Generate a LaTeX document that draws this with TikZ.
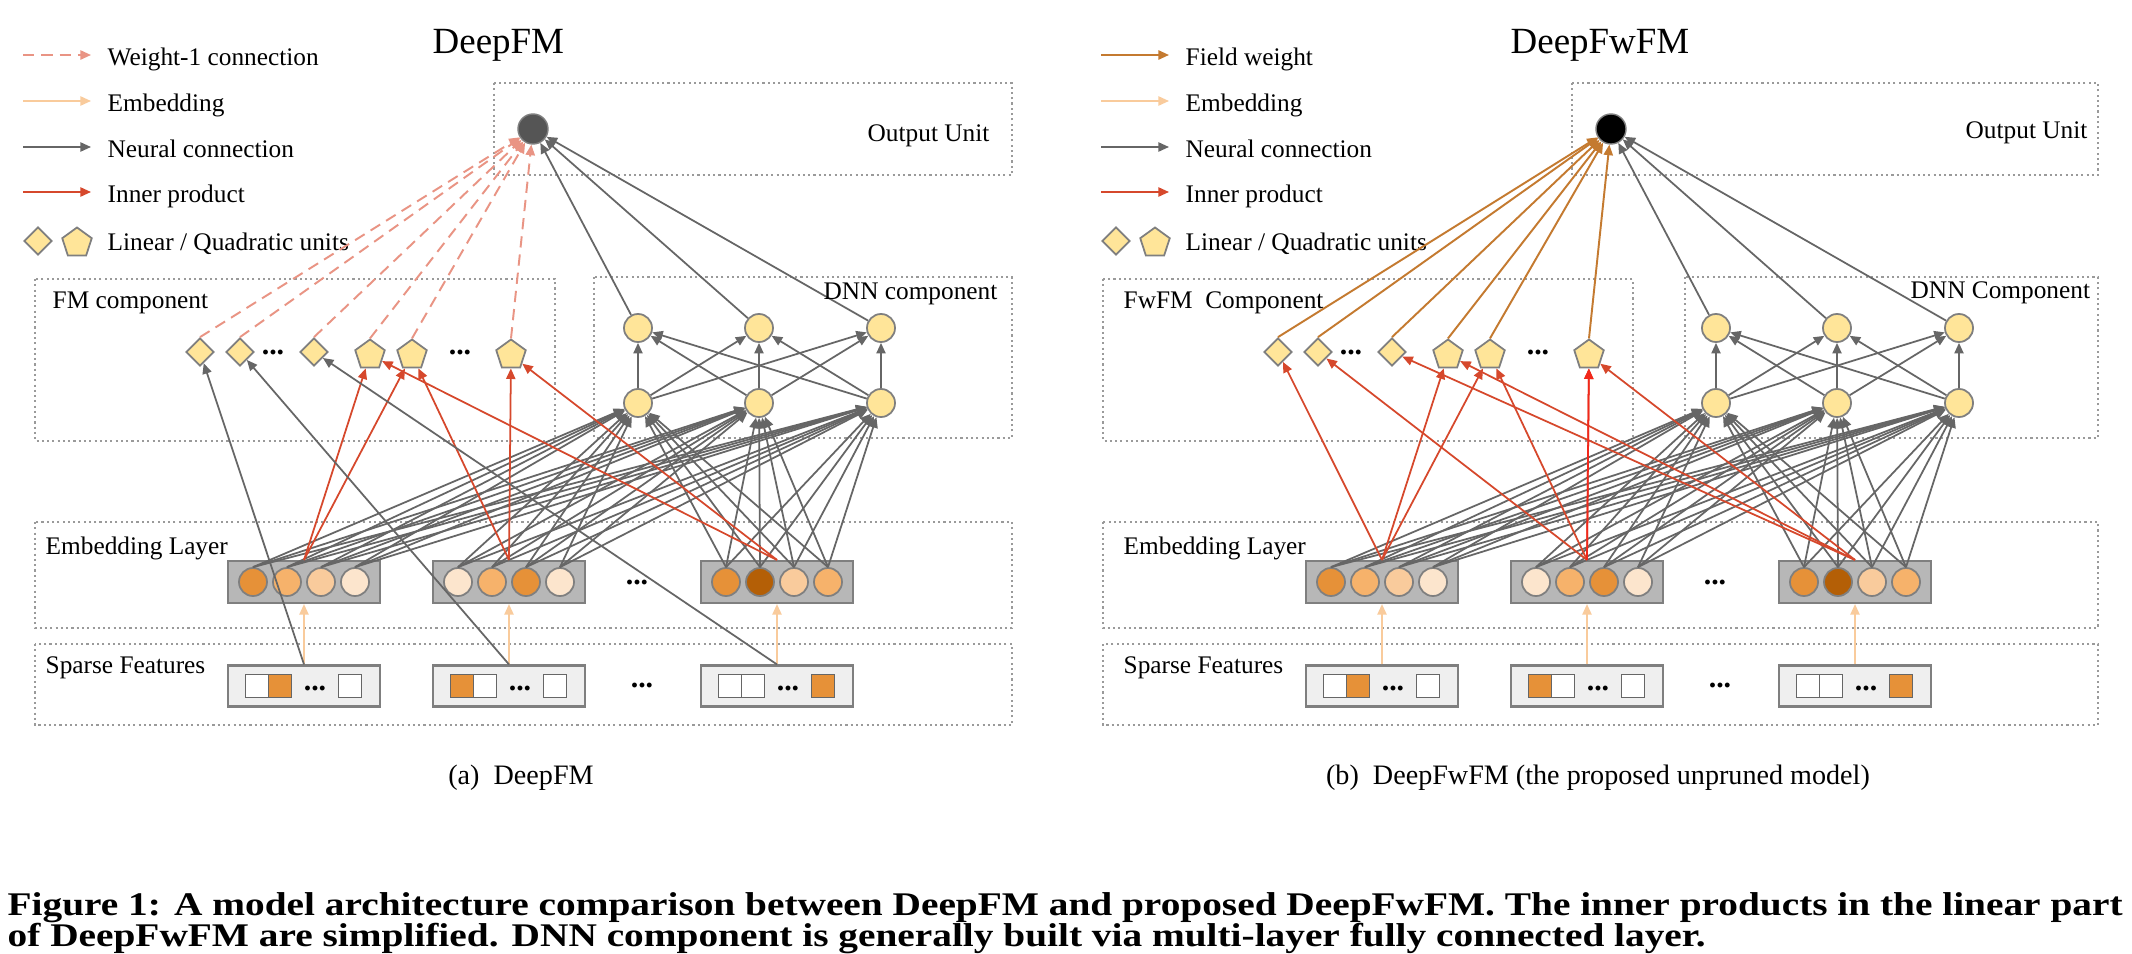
\documentclass[tikz,border=0pt]{standalone}
\usepackage{fontspec}
\setmainfont{Liberation Serif}
\newfontfamily\capfont[FakeStretch=1.19]{Liberation Serif}
\usepackage{tikz}
\usetikzlibrary{arrows.meta,shapes.geometric}

\definecolor{cUnit}{HTML}{FFE599}
\definecolor{cEdge}{HTML}{7F7F7F}
\definecolor{cNeural}{HTML}{666666}
\definecolor{cInner}{HTML}{D6482C}
\definecolor{cInnerHi}{HTML}{F2271A}
\definecolor{cWone}{HTML}{E99484}
\definecolor{cEmb}{HTML}{F9CB9C}
\definecolor{cField}{HTML}{C47A30}
\definecolor{cRegion}{HTML}{9A9A9A}
\definecolor{cBlock}{HTML}{B7B7B7}
\definecolor{cSparse}{HTML}{EFEFEF}
\definecolor{cOut}{HTML}{555555}
\definecolor{cE1}{HTML}{E69138}
\definecolor{cE2}{HTML}{F6B26B}
\definecolor{cE3}{HTML}{F9CB9C}
\definecolor{cE4}{HTML}{FCE5CD}
\definecolor{cE5}{HTML}{B45F06}

\begin{document}
\begin{tikzpicture}[x=0.01cm, y=-0.01cm,
    arrowed/.style = {-{Triangle[length=3pt,width=2.6pt]}},
    neural/.style = {draw=cNeural, line width=0.5pt, arrowed},
    innerp/.style = {draw=cInner, line width=0.5pt, arrowed},
    wone/.style = {draw=cWone, line width=0.55pt, dash pattern=on 3.2pt off 2pt, arrowed},
    emb/.style = {draw=cEmb, line width=0.5pt, arrowed},
    fieldw/.style = {draw=cField, line width=0.55pt, arrowed},
    region/.style = {draw=cRegion, line width=0.6pt, dash pattern=on 0.6pt off 0.9pt},
    unit/.style = {circle, draw=cEdge, fill=cUnit, line width=0.5pt, minimum size=0.28cm, inner sep=0pt},
    lin/.style = {diamond, draw=cEdge, fill=cUnit, line width=0.5pt, minimum size=0.28cm, inner sep=0pt},
    quad/.style = {regular polygon, regular polygon sides=5, draw=cEdge, fill=cUnit,
                   line width=0.5pt, minimum size=0.31cm, inner sep=0pt},
    outu/.style = {circle, draw=cEdge, minimum size=0.3cm, inner sep=0pt},
    eunit/.style = {circle, draw=cEdge, line width=0.5pt, minimum size=0.28cm, inner sep=0pt},
    eblock/.style = {draw=cEdge, fill=cBlock, line width=0.6pt, minimum width=1.52cm,
                     minimum height=0.42cm, inner sep=0pt},
    sblock/.style = {draw=cEdge, fill=cSparse, line width=0.6pt, minimum width=1.52cm,
                     minimum height=0.41cm, inner sep=0pt},
    bit/.style = {draw=cNeural, line width=0.5pt, minimum size=0.23cm, inner sep=0pt},
    lab/.style = {font=\fontsize{7.2}{8.6}\selectfont, anchor=base west, inner sep=0pt},
    ttl/.style = {font=\fontsize{10.5}{12}\selectfont, anchor=base west, inner sep=0pt},
    ellip/.style = {font=\fontsize{8.5}{10}\selectfont\bfseries, anchor=base, inner sep=0pt},
    subcap/.style = {font=\fontsize{8}{9.6}\selectfont, anchor=base, inner sep=0pt},
    figcap/.style = {font=\capfont\bfseries\fontsize{9.4}{11}\selectfont, anchor=base west, inner sep=0pt}]
\fill[white] (0,0) rectangle (2132,952);

% both panels
\foreach \p/\sx/\lx/\rx/\dl/\ofill in {a/0/35/1012/594/cOut, b/1078/25/1020/607/black}{
\begin{scope}[shift={(\sx,0)}]
    \draw[region] (494,83) rectangle (\rx,175);
    \draw[region] (\lx,279) rectangle (555,441);
    \draw[region] (\dl,277) rectangle (\rx,438);
    \draw[region] (\lx,522) rectangle (\rx,628);
    \draw[region] (\lx,644) rectangle (\rx,725);
    \node[lab] (\p-embl) at (45,554) {Embedding Layer};
    \node[lab] (\p-spl) at (45,673) {Sparse Features};
    % legend
    \foreach \i/\y/\st/\txt in {2/101/emb/Embedding, 3/147/neural/Neural connection, 4/192/innerp/Inner product}{
        \coordinate (\p-k\i) at (23,\y);
        \coordinate (\p-m\i) at (91,\y);
        \draw[\st] (\p-k\i) -- (\p-m\i);
        \node[lab] (\p-t\i) at (107,\y+10) {\txt};
    }
    \node[lin] (\p-kd) at (38,241) {};
    \node[quad] (\p-kq) at (77,243) {};
    \node[lab] (\p-t5) at (107,250) {Linear / Quadratic units};
    % output and DNN
    \node[outu, fill=\ofill] (\p-out) at (533,129) {};
    \foreach \i/\x in {1/638,2/759,3/881}{
        \node[unit] (\p-h\i) at (\x,403) {};
        \node[unit] (\p-g\i) at (\x,328) {};
    }
    % linear and quadratic units
    \foreach \i/\x in {1/200,2/240,3/314} \node[lin] (\p-d\i) at (\x,352) {};
    \foreach \i/\x in {1/370,2/412,3/511} \node[quad] (\p-q\i) at (\x,355) {};
    \node[ellip] (\p-dd) at (273,354) {...};
    \node[ellip] (\p-qd) at (460,354) {...};
    % fields
    \foreach \j/\x/\fa/\fb/\fc/\fd/\ga/\gb/\gc in {1/304/cE1/cE2/cE3/cE4/white/cE1/white,
            2/509/cE4/cE2/cE1/cE4/cE1/white/white, 3/777/cE1/cE5/cE3/cE2/white/white/cE1}{
        \node[eblock] (\p-e\j) at (\x,582) {};
        \node[sblock] (\p-s\j) at (\x,686) {};
        \foreach \k/\col/\dx in {1/\fa/-51, 2/\fb/-17, 3/\fc/17, 4/\fd/51}
            \node[eunit, fill=\col] (\p-e\j-\k) at (\x+\dx,582) {};
        \node[bit, fill=\ga] (\p-s\j-1) at (\x-47,686) {};
        \node[bit, fill=\gb] (\p-s\j-2) at (\x-24,686) {};
        \node[bit, fill=\gc] (\p-s\j-3) at (\x+46,686) {};
        \node[ellip] (\p-s\j-d) at (\x+11,690) {...};
    }
    \node[ellip] (\p-ed) at (637,584) {...};
    \node[ellip] (\p-sd) at (642,687) {...};
    % connections
    \foreach \j in {1,2,3}{
        \draw[emb] (\p-s\j.north) -- (\p-e\j.south);
        \foreach \k in {1,...,4}
            \foreach \i in {1,2,3}
                \draw[neural] (\p-e\j-\k.north) -- (\p-h\i);
    }
    \foreach \i in {1,2,3}{
        \draw[neural] (\p-g\i) -- (\p-out);
        \foreach \m in {1,2,3} \draw[neural] (\p-h\i) -- (\p-g\m);
    }
    \foreach \q/\j in {1/1,1/3,2/1,2/2,3/2,3/3}
        \draw[innerp] (\p-e\j.north) -- (\p-q\q);
\end{scope}
}

\node[ttl] (a-title) at (432,53) {DeepFM};
\node[ttl] (b-title) at (1510,53) {DeepFwFM};
\node[lab] (a-outl) at (867,141) {Output Unit};
\node[lab] (b-outl) at (1965,138) {Output Unit};
\node[lab] (a-fml) at (52,308) {FM component};
\node[lab] (b-fml) at (1123,308) {FwFM\ \ Component};
\node[lab] (a-dnnl) at (823,299) {DNN component};
\node[lab] (b-dnnl) at (1910,298) {DNN Component};

% DeepFM
\coordinate (a-k1) at (23,55);
\coordinate (a-m1) at (91,55);
\draw[wone] (a-k1) -- (a-m1);
\node[lab] (a-t1) at (107,65) {Weight-1 connection};
\foreach \u in {d1,d2,d3,q1,q2,q3} \draw[wone] (a-\u.north) -- (a-out);
\foreach \j in {1,2,3} \draw[neural] (a-s\j.north) -- (a-d\j);

% DeepFwFM
\coordinate (b-k1) at (1101,55);
\coordinate (b-m1) at (1169,55);
\draw[fieldw] (b-k1) -- (b-m1);
\node[lab] (b-t1) at (1185,65) {Field weight};
\foreach \u in {d1,d2,d3,q1,q2,q3} \draw[fieldw] (b-\u.north) -- (b-out);
\foreach \j in {1,2,3} \draw[innerp] (b-e\j.north) -- (b-d\j);
\draw[innerp, draw=cInnerHi] (b-e2.north) -- (b-q3);

% captions
\node[subcap] (a-cap) at (521,784) {(a)\ \ DeepFM};
\node[subcap] (b-cap) at (1598,784) {(b)\ \ DeepFwFM (the proposed unpruned model)};
\node[figcap] (cap1) at (7,915) {Figure 1: A model architecture comparison between DeepFM and proposed DeepFwFM. The inner products in the linear part};
\node[figcap] (cap2) at (7,946) {of DeepFwFM are simplified. DNN component is generally built via multi-layer fully connected layer.};
\end{tikzpicture}
\end{document}
